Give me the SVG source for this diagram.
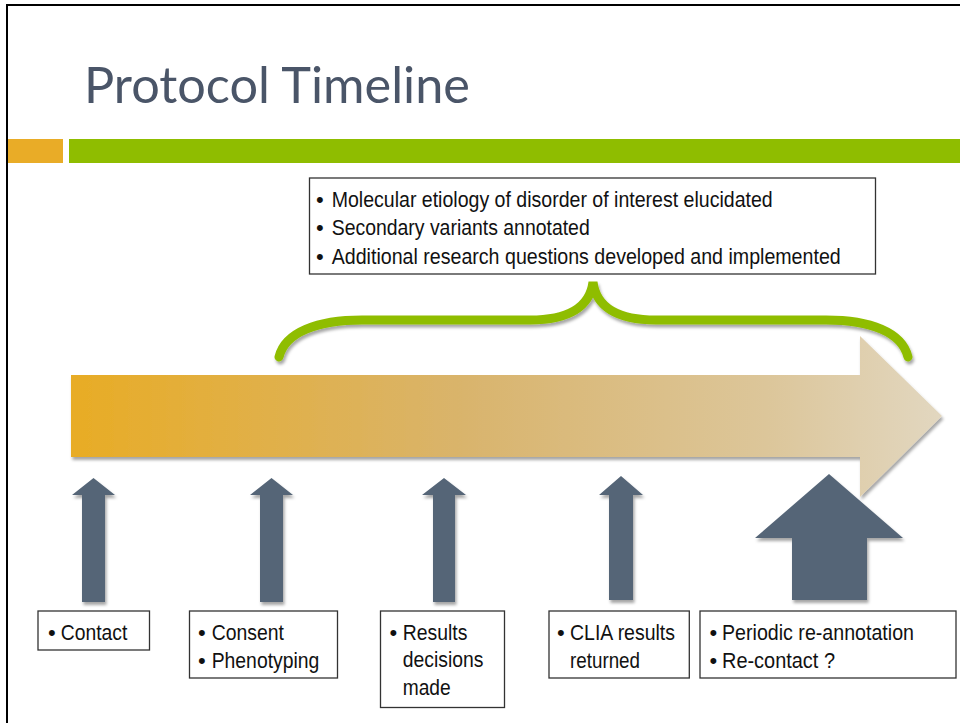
<svg xmlns="http://www.w3.org/2000/svg" width="960" height="723" viewBox="0 0 960 723">
<defs>
<linearGradient id="tl" x1="71" y1="0" x2="942" y2="0" gradientUnits="userSpaceOnUse">
<stop offset="0" stop-color="#E8AC25"/>
<stop offset="0.45" stop-color="#D9B46C"/>
<stop offset="0.8" stop-color="#DCC69A"/>
<stop offset="1" stop-color="#E2D7C0"/>
</linearGradient>
<filter id="sh" x="-10%" y="-10%" width="130%" height="140%">
<feDropShadow dx="1.5" dy="3" stdDeviation="1.5" flood-color="#000" flood-opacity="0.35"/>
</filter>
</defs>
<style>
.box{fill:#fff;stroke:#333;stroke-width:1.3}
.t{font-family:"Liberation Sans",Arial,sans-serif;font-size:22px;fill:#111}
.tt{font-family:"Liberation Sans",Arial,sans-serif;font-size:22px;fill:#111}
.up{fill:#556577;filter:url(#sh)}
</style>
<rect x="7" y="5" width="1000" height="800" fill="#fff" stroke="#000" stroke-width="2"/>
<g id="title">
<text x="84" y="103" font-family="Lato,'Open Sans',sans-serif" font-size="50" fill="#4A5568" textLength="386" lengthAdjust="spacingAndGlyphs">Protocol Timeline</text>
</g>
<g id="header-bars">
<rect x="8" y="139" width="55" height="24" fill="#E9AC27"/>
<rect x="69" y="139" width="891" height="24" fill="#8FBD00"/>
</g>
<g id="timeline-arrow">
<polygon points="71,375 860,375 860,336 942,416 860,497 860,457 71,457" fill="url(#tl)" filter="url(#sh)"/>
</g>
<g id="box-top">
<rect class="box" x="309.5" y="178" width="566" height="96"/>
<text class="tt" x="316" y="207">•</text>
<text class="tt" x="331.7" y="207" textLength="441" lengthAdjust="spacingAndGlyphs">Molecular etiology of disorder of interest elucidated</text>
<text class="tt" x="316" y="235">•</text>
<text class="tt" x="331.7" y="235" textLength="258" lengthAdjust="spacingAndGlyphs">Secondary variants annotated</text>
<text class="tt" x="316" y="264">•</text>
<text class="tt" x="331.7" y="264" textLength="509" lengthAdjust="spacingAndGlyphs">Additional research questions developed and implemented</text>
</g>
<g id="connectors">
<path id="brace" d="M279,357 C285,332 318,320 362,320 L530,320 C570,320 590,306 593,282 C596,306 616,320 656,320 L826,320 C870,320 902,332 908,357" fill="none" stroke="#8FBD00" stroke-width="9" stroke-linecap="round" filter="url(#sh)"/>
<polygon class="up" points="93.5,478 115,495 105,495 105,602 82,602 82,495 72,495"/>
<polygon class="up" points="271.5,478 293,495 283,495 283,602 260,602 260,495 250,495"/>
<polygon class="up" points="444,478 466,495 455,495 455,602 433,602 433,495 422,495"/>
<polygon class="up" points="621,476 643,495 633,495 633,600 609,600 609,495 599,495"/>
<polygon class="up" points="829,474 903,538 867,538 867,600 792,600 792,538 755,538"/>
</g>
<g id="box-contact">
<rect class="box" x="38" y="611" width="111.5" height="39"/>
<text class="t" x="48" y="640">•</text>
<text class="t" x="60.7" y="640" textLength="66.6" lengthAdjust="spacingAndGlyphs">Contact</text>
</g>
<g id="box-consent">
<rect class="box" x="189.5" y="611" width="148" height="67"/>
<text class="t" x="198" y="640">•</text>
<text class="t" x="211.7" y="640" textLength="72.3" lengthAdjust="spacingAndGlyphs">Consent</text>
<text class="t" x="198" y="668">•</text>
<text class="t" x="211.7" y="668" textLength="107.6" lengthAdjust="spacingAndGlyphs">Phenotyping</text>
</g>
<g id="box-results">
<rect class="box" x="380.5" y="611" width="124" height="96.5"/>
<text class="t" x="389.5" y="639.5">•</text>
<text class="t" x="402.7" y="639.5" textLength="64.7" lengthAdjust="spacingAndGlyphs">Results</text>
<text class="t" x="402.7" y="667" textLength="80.7" lengthAdjust="spacingAndGlyphs">decisions</text>
<text class="t" x="402.7" y="695" textLength="48" lengthAdjust="spacingAndGlyphs">made</text>
</g>
<g id="box-clia">
<rect class="box" x="549" y="611" width="140.3" height="67"/>
<text class="t" x="557" y="640">•</text>
<text class="t" x="570" y="640" textLength="105" lengthAdjust="spacingAndGlyphs">CLIA results</text>
<text class="t" x="570" y="668" textLength="70" lengthAdjust="spacingAndGlyphs">returned</text>
</g>
<g id="box-periodic">
<rect class="box" x="700" y="611" width="256" height="67"/>
<text class="t" x="709.5" y="640">•</text>
<text class="t" x="722" y="640" textLength="192" lengthAdjust="spacingAndGlyphs">Periodic re-annotation</text>
<text class="t" x="709.5" y="668">•</text>
<text class="t" x="722" y="668" textLength="113" lengthAdjust="spacingAndGlyphs">Re-contact ?</text>
</g>
</svg>
